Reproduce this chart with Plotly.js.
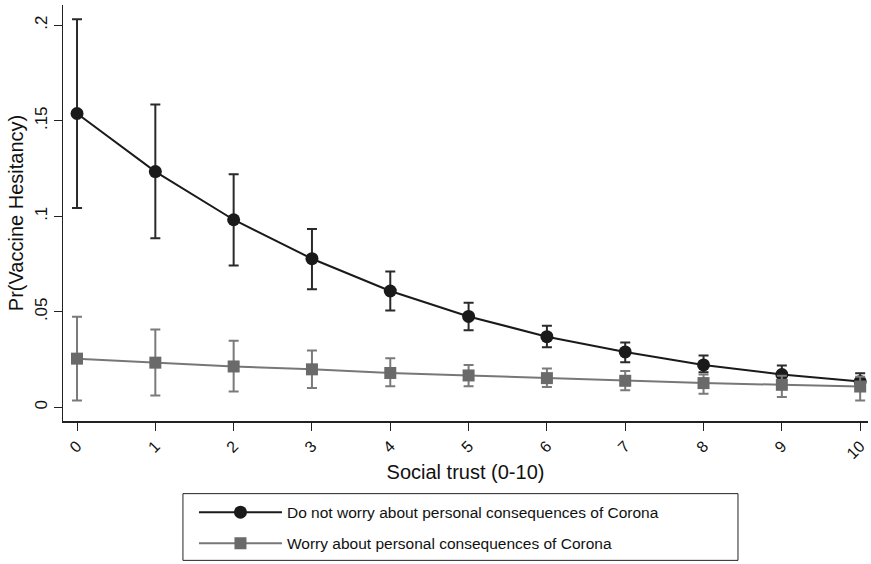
<!DOCTYPE html>
<html>
<head>
<meta charset="utf-8">
<script src="https://cdn.plot.ly/plotly-3.0.1.min.js"></script>
<style>html,body{margin:0;padding:0;background:#fff;}#chart{width:871px;height:564px;}</style>
</head>
<body>
<div id="chart"></div>
<script>
const trust = [0,1,2,3,4,5,6,7,8,9,10];
const noWorry = [0.1538,0.1234,0.0982,0.0778,0.0609,0.0476,0.0370,0.0290,0.0222,0.0172,0.0135];
const noWorryHi = [0.2031,0.1585,0.1220,0.0934,0.0711,0.0548,0.0427,0.0340,0.0271,0.0219,0.0179];
const noWorryLo = [0.1043,0.0885,0.0743,0.0618,0.0507,0.0404,0.0314,0.0236,0.0184,0.0135,0.0095];
const worry = [0.0255,0.0234,0.0214,0.0199,0.0180,0.0167,0.0153,0.0139,0.0127,0.0118,0.0109];
const worryHi = [0.0474,0.0408,0.0349,0.0298,0.0257,0.0222,0.0203,0.0190,0.0172,0.0165,0.0160];
const worryLo = [0.0036,0.0062,0.0083,0.0101,0.0111,0.0111,0.0107,0.0089,0.0071,0.0054,0.0036];
const yTickVals = [0,0.05,0.1,0.15,0.2];
const yTickText = ['0','.05','.1','.15','.2'];
const names = ['Do not worry about personal consequences of Corona','Worry about personal consequences of Corona'];

const up = (hi, m) => hi.map((v,i)=>v-m[i]);
const dn = (lo, m) => lo.map((v,i)=>m[i]-v);

const font = 'Liberation Sans, Arial, sans-serif';
const traces = [
  {x: trust, y: noWorry, name: names[0], type:'scatter', mode:'lines+markers', legendgroup:'a',
   line:{color:'#1a1a1a', width:2}, marker:{symbol:'circle', size:13, color:'#1a1a1a'},
   error_y:{type:'data', symmetric:false, array:up(noWorryHi,noWorry), arrayminus:dn(noWorryLo,noWorry), color:'#2a2a2a', thickness:2, width:5}},
  {x: trust, y: worry, name: names[1], type:'scatter', mode:'lines+markers', legendgroup:'b',
   line:{color:'#777777', width:2}, marker:{symbol:'square', size:12, color:'#6a6a6a'},
   error_y:{type:'data', symmetric:false, array:up(worryHi,worry), arrayminus:dn(worryLo,worry), color:'#7a7a7a', thickness:2, width:5}}
];

const layout = {
  width:871, height:564,
  margin:{l:63, r:3, t:5, b:141},
  paper_bgcolor:'#fff', plot_bgcolor:'#fff',
  font:{family:font, color:'#111'},
  showlegend:true,
  legend:{x:0.1627, xanchor:'left', y:-0.1794, yanchor:'top', orientation:'v',
    borderwidth:0, font:{size:15.5, family:font, color:'#111'},
    traceorder:'grouped', tracegroupgap:8, itemwidth:83, bgcolor:'rgba(0,0,0,0)'},
  shapes:[{type:'rect', xref:'paper', yref:'paper', x0:0.149, x1:0.8385, y0:-0.335, y1:-0.1746,
    line:{color:'#222', width:1}, fillcolor:'rgba(0,0,0,0)'}],
  xaxis:{range:[-0.179,10.1], tickvals:trust, ticktext:trust.map(String), tickangle:-45,
    showgrid:false, zeroline:false, showline:true, linecolor:'#222', linewidth:1.5,
    ticks:'outside', ticklen:8, tickcolor:'#222', tickfont:{size:16},
    title:{text:'Social trust (0-10)', font:{size:20}, standoff:4}},
  yaxis:{range:[-0.00714,0.2106], tickvals:yTickVals, ticktext:yTickText, tickangle:-90,
    showgrid:false, zeroline:false, showline:true, linecolor:'#222', linewidth:1.5,
    ticks:'outside', ticklen:8, tickcolor:'#222', tickfont:{size:17},
    title:{text:'Pr(Vaccine Hesitancy)', font:{size:20}, standoff:2}}
};
Plotly.newPlot('chart', traces, layout, {displayModeBar:false, staticPlot:true});
</script>
</body>
</html>
